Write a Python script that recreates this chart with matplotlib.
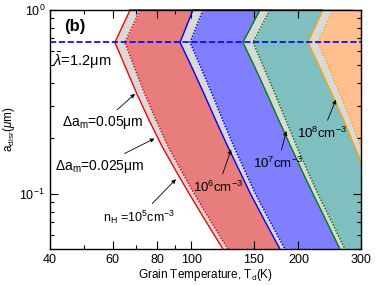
import numpy as np
import matplotlib
matplotlib.use("Agg")
import matplotlib.pyplot as plt
from matplotlib.ticker import FixedLocator, FixedFormatter, NullFormatter

plt.rcParams['font.family'] = ['Liberation Sans', 'DejaVu Sans']
plt.rcParams['mathtext.fontset'] = 'custom'
plt.rcParams['mathtext.rm'] = 'Liberation Sans'
plt.rcParams['mathtext.it'] = 'Liberation Sans:italic'
plt.rcParams['mathtext.bf'] = 'Liberation Sans:bold'

# grain size grid (um), shared by all curves
a_grid = [1.0, 0.667, 0.5, 0.35, 0.25, 0.18, 0.13, 0.1, 0.07, 0.05]

# left (solid) edge of each band, T_d in K
T_solid_5 = [67.2, 60.9, 64.9, 70.2, 76.1, 82.8, 91.1, 98.6, 110.2, 122.7]
T_solid_6 = [101.0, 92.9, 99.7, 108.5, 117.2, 126.7, 137.4, 146.6, 161.6, 177.5]
T_solid_7 = [155.9, 139.6, 150.0, 163.2, 176.4, 190.6, 206.0, 219.8, 240.6, 261.8]
T_solid_8 = [234.5, 212.8, 228.5, 248.6, 268.8, 288.5, 309.8, 328.5, 359.7, 393.8]

# right (dotted) edge of each grey band
T_dot_5 = [71.7, 65.0, 68.8, 73.9, 79.7, 86.1, 94.4, 101.9, 113.8, 126.7]
T_dot_6 = [107.8, 99.1, 105.7, 114.3, 122.7, 131.8, 142.3, 151.4, 166.9, 183.4]
T_dot_7 = [166.3, 149.0, 159.0, 171.9, 184.7, 198.2, 213.4, 227.1, 248.5, 270.4]
T_dot_8 = [250.2, 227.1, 242.2, 261.8, 281.4, 300.0, 321.0, 339.3, 371.6, 406.8]

line_colors = ['red', 'blue', 'green', 'orange']
fill_colors = ['#e87d7d', '#7f7fff', '#7fbfbf', '#ffbf8f']
grey = '#d9d9d9'

lam_line = 0.667
x_ticks = [40, 60, 80, 100, 150, 200, 300]
x_minor = [50, 70, 90]

solids = [T_solid_5, T_solid_6, T_solid_7, T_solid_8]
dots = [T_dot_5, T_dot_6, T_dot_7, T_dot_8]

fig = plt.figure(figsize=(3.76, 2.86), dpi=100)
ax = fig.add_axes([0.133, 0.129, 0.827, 0.836])
ax.set_xscale('log')
ax.set_yscale('log')
ax.set_xlim(40, 300)
ax.set_ylim(0.05, 1.0)

a = np.array(a_grid)
for i in range(4):
    s = np.array(solids[i])
    d = np.array(dots[i])
    ax.fill_betweenx(a, s, d, color=grey, lw=0, zorder=1)
    if i < 3:
        right = np.array(solids[i + 1])
    else:
        right = np.full_like(d, 1000.0)
    ax.fill_betweenx(a, d, right, color=fill_colors[i], lw=0, zorder=1)
    ax.plot(s, a, color=line_colors[i], lw=1.0, zorder=3)
    ax.plot(d, a, color=line_colors[i], lw=1.1, ls=(0, (1, 1)), zorder=3)
    # top edge of the polygon
    top_end = solids[i + 1][0] if i < 3 else 285
    ax.plot([s[0], top_end], [1.0, 1.0], color=line_colors[i], lw=1.2,
            zorder=4, clip_on=False)

ax.axhline(lam_line, color='blue', ls='--', lw=1.2, zorder=5)

ax.xaxis.set_major_locator(FixedLocator(x_ticks))
ax.xaxis.set_major_formatter(FixedFormatter([str(t) for t in x_ticks]))
ax.xaxis.set_minor_locator(FixedLocator(x_minor))
ax.xaxis.set_minor_formatter(NullFormatter())
ax.tick_params(which='both', direction='in', top=True, right=True,
               labelsize=9, width=0.8)
ax.tick_params(which='major', length=5.5)
ax.tick_params(which='minor', length=3)
for sp in ax.spines.values():
    sp.set_linewidth(1.0)
    sp.set_zorder(6)

ax.set_xlabel(r'Grain Temperature, T$_{\rm d}$(K)', fontsize=8.5, labelpad=1)
ax.set_ylabel(r'a$_{\rm disr}$($\mu$m)', fontsize=8.5, labelpad=2)

ax.text(0.045, 0.933, '(b)', transform=ax.transAxes, fontsize=12,
        fontweight='bold', va='center', zorder=7)
ax.text(0.01, 0.79, r'$\bar{\lambda}$=1.2μm', transform=ax.transAxes,
        fontsize=10.5, va='center', zorder=7)

arrow = dict(arrowstyle='-|>', color='k', lw=0.6, mutation_scale=6)
ax.annotate(r'$\Delta$a$_{\rm m}$=0.05μm', xy=(70.3, 0.358), xytext=(43.2, 0.243),
            fontsize=10, va='center', arrowprops=arrow, zorder=7)
ax.annotate(r'$\Delta$a$_{\rm m}$=0.025μm', xy=(80.0, 0.203), xytext=(41.3, 0.1415),
            fontsize=10, va='center', arrowprops=arrow, zorder=7)
ax.annotate(r'n$_{\rm H}$ =10$^5$cm$^{-3}$', xy=(91.6, 0.123), xytext=(56.4, 0.0747),
            fontsize=9, va='center', arrowprops=arrow, zorder=7)
ax.annotate(r'10$^6$cm$^{-3}$', xy=(130.1, 0.180), xytext=(101.0, 0.1088),
            fontsize=9.5, va='center', arrowprops=arrow, zorder=7)
ax.annotate(r'10$^7$cm$^{-3}$', xy=(185.8, 0.227), xytext=(149.0, 0.147),
            fontsize=9.5, va='center', arrowprops=arrow, zorder=7)
ax.annotate(r'10$^8$cm$^{-3}$', xy=(256.8, 0.336), xytext=(198.4, 0.2137),
            fontsize=9.5, va='center', arrowprops=arrow, zorder=7)

fig.savefig('out.png', dpi=100)
